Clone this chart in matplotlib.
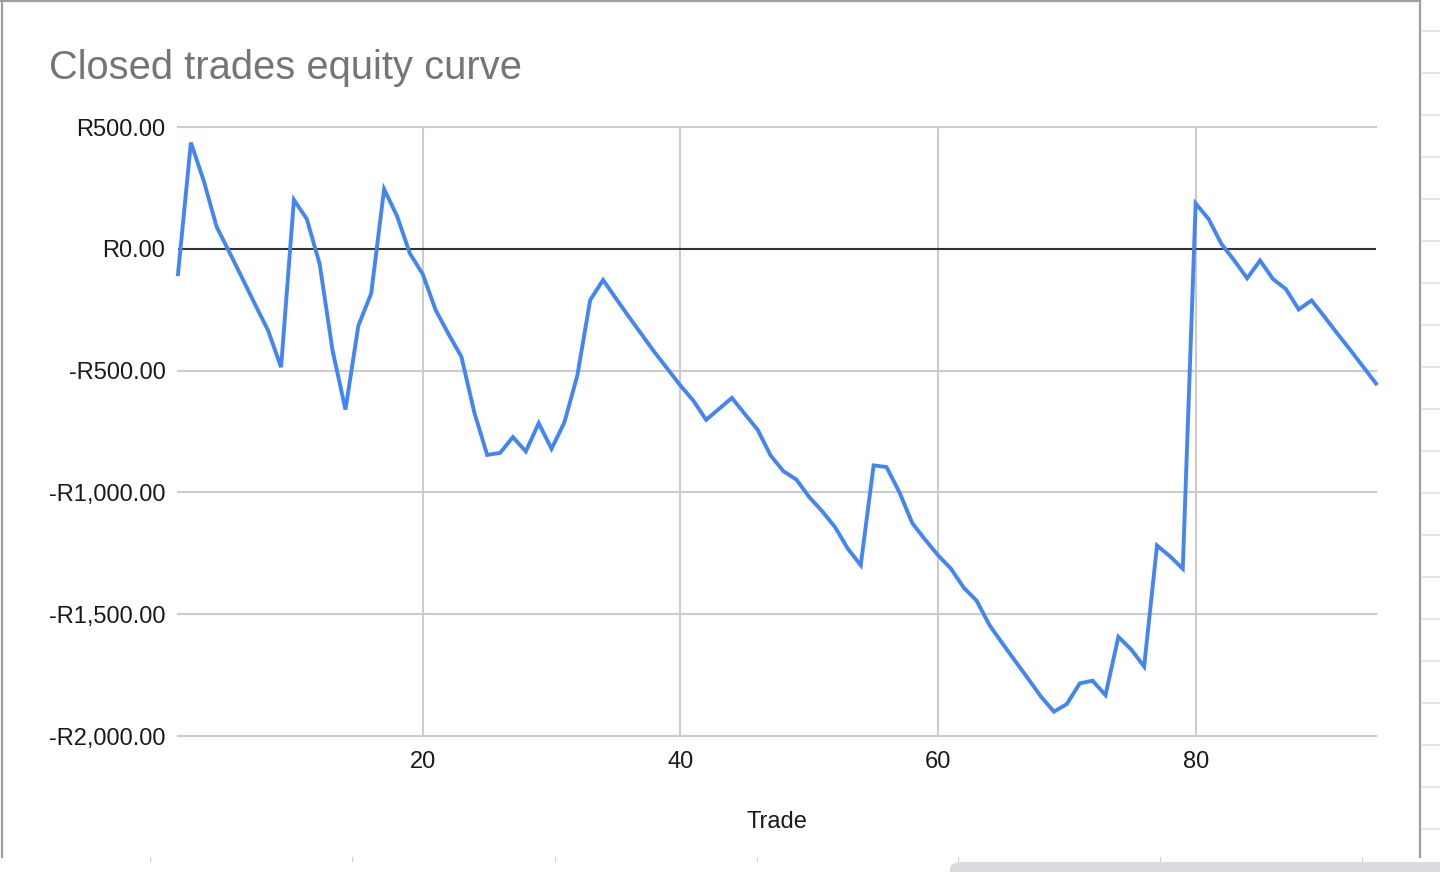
import matplotlib.pyplot as plt
from matplotlib.ticker import FuncFormatter
from matplotlib.patches import FancyBboxPatch
from matplotlib.lines import Line2D

plt.rcParams['font.family'] = ['Liberation Sans', 'DejaVu Sans']

title = 'Closed trades equity curve'
x_label = 'Trade'

trades = list(range(1, 95))
equity = [
    -104, 436, 279, 90, -15, -122, -230, -336, -486, 201,
    122, -63, -418, -660, -316, -183, 245, 135, -19, -104,
    -251, -350, -443, -671, -846, -838, -773, -832, -716, -821,
    -712, -520, -210, -128, -204, -279, -352, -425, -493, -561,
    -623, -702, -657, -612, -678, -743, -848, -913, -947, -1019,
    -1077, -1142, -1231, -1299, -889, -896, -999, -1126, -1194, -1258,
    -1313, -1391, -1445, -1545, -1620, -1693, -1765, -1839, -1900, -1869,
    -1784, -1773, -1832, -1593, -1645, -1715, -1218, -1262, -1313, 186,
    123, 20, -48, -121, -48, -124, -165, -249, -212, -279,
    -348, -415, -484, -553,
]
x_ticks = [20, 40, 60, 80]
y_ticks = [-2000, -1500, -1000, -500, 0, 500]

W, H = 1440, 872
fig = plt.figure(figsize=(W / 100, H / 100), dpi=100)

# chart card frame and spreadsheet bits around it
gray = '#9e9e9e'
fig.add_artist(Line2D([2 / W, 2 / W], [1 - 857 / H, 1], transform=fig.transFigure, color=gray, lw=1.6))
fig.add_artist(Line2D([0, 1420 / W], [1 - 1 / H, 1 - 1 / H], transform=fig.transFigure, color=gray, lw=1.6))
fig.add_artist(Line2D([1420 / W, 1420 / W], [1 - 857 / H, 1], transform=fig.transFigure, color=gray, lw=1.6))
for yy in range(31, 860, 42):
    fig.add_artist(Line2D([1422 / W, 1], [1 - yy / H, 1 - yy / H], transform=fig.transFigure, color='#e2e2e2', lw=1.2))
for xx in [150, 352, 555, 757, 958, 1160, 1362]:
    fig.add_artist(Line2D([xx / W, xx / W], [1 - 861 / H, 1 - 857 / H], transform=fig.transFigure, color='#d0d0d0', lw=0.8))
fig.add_artist(FancyBboxPatch((950 / W, -10 / H), 520 / W, 20 / H, boxstyle='round,pad=0,rounding_size=0.008',
                              transform=fig.transFigure, facecolor='#dadce0', edgecolor='none'))

ax = fig.add_axes([178 / W, 1 - 736 / H, (1376 - 178) / W, (736 - 127) / H])

ax.plot(trades, equity, color='#4285F4', lw=2.8, solid_joinstyle='miter', zorder=3, clip_on=False)

ax.set_xlim(1, 94)
ax.set_ylim(-2000, 500)
ax.set_xticks(x_ticks)
ax.set_yticks(y_ticks)
ax.yaxis.set_major_formatter(FuncFormatter(lambda v, p: ('-' if v < 0 else '') + 'R{:,.2f}'.format(abs(v))))

for v in y_ticks:
    if v == 0:
        ax.axhline(v, color='#333333', lw=1.5, zorder=2)
    else:
        ax.axhline(v, color='#cccccc', lw=1.5, zorder=1, clip_on=False)
for v in x_ticks:
    ax.axvline(v, color='#cccccc', lw=1.5, zorder=1)

for s in ax.spines.values():
    s.set_visible(False)
ax.tick_params(axis='both', length=0, labelsize=17, colors='#1a1a1a')
ax.tick_params(axis='y', pad=9)
ax.tick_params(axis='x', pad=11)

ax.set_xlabel(x_label, fontsize=17, color='#1a1a1a', labelpad=27)

fig.text(49 / W, 1 - 79 / H, title, fontsize=28.7, color='#757575', ha='left', va='baseline')

plt.savefig('out.png', dpi=100)
